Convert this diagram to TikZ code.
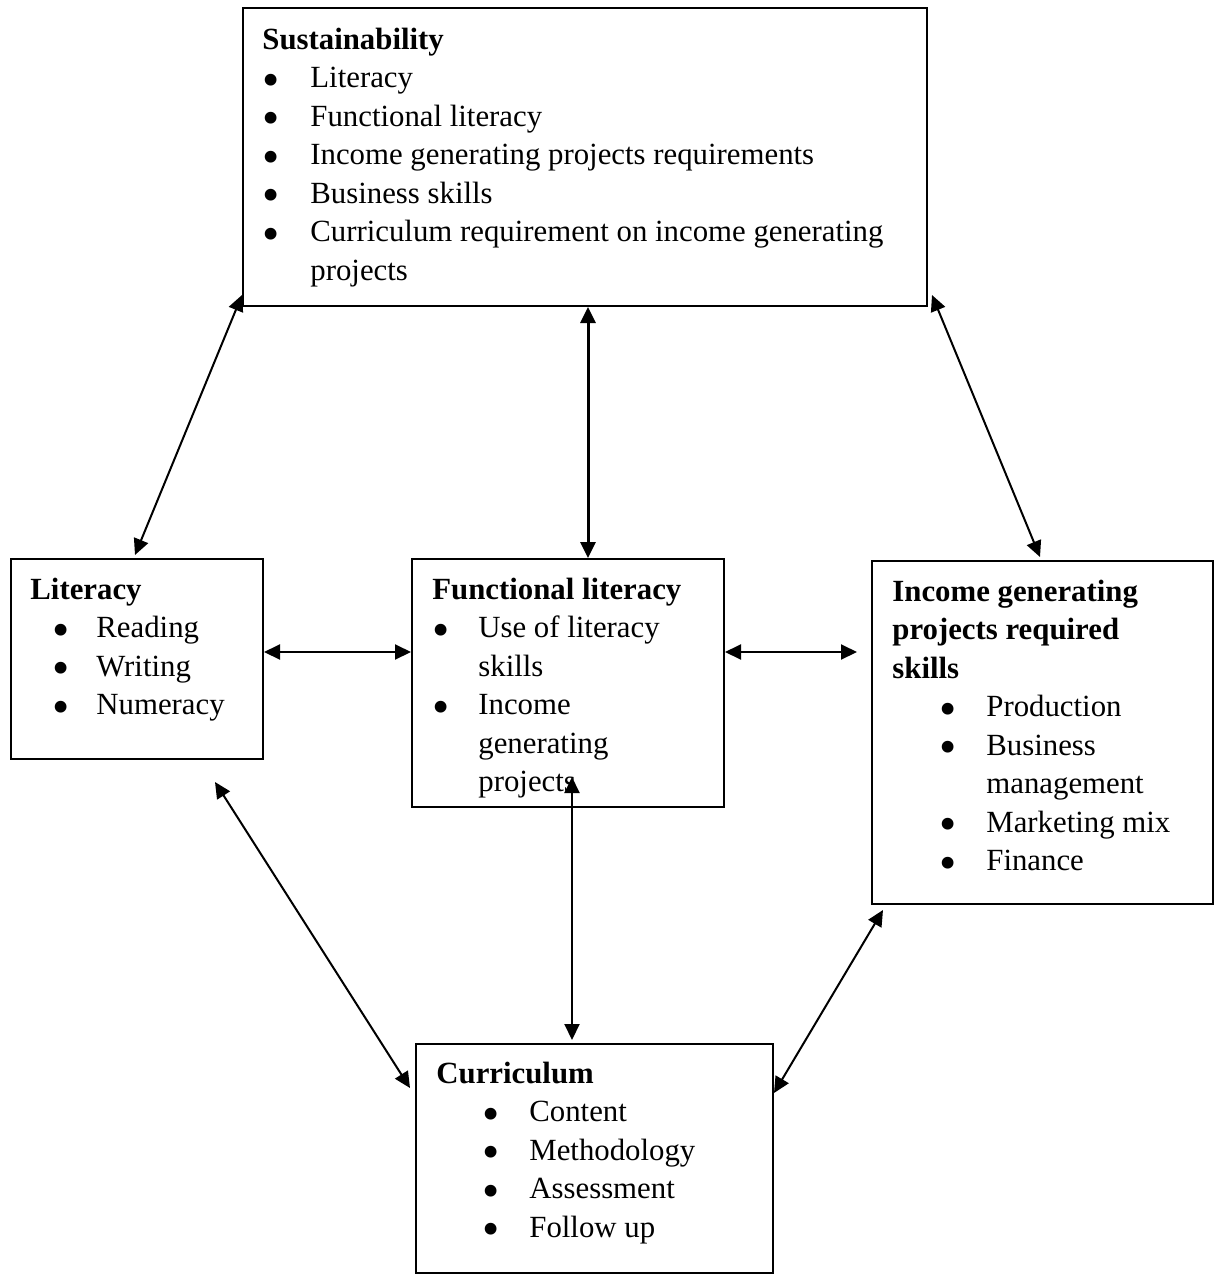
\documentclass[tikz,border=0pt]{standalone}
\usepackage{fontspec}
\setmainfont{Liberation Serif}
\usetikzlibrary{arrows.meta}
\newcommand{\bul}[3]{\hspace*{#1}\makebox[#2][l]{\smash{\raisebox{-0.27em}{\scalebox{1.6}{\textbullet}}}}#3}
\newcommand{\cont}[1]{\hspace*{#1}}
\tikzset{
	box/.style={draw=black, line width=1pt, inner sep=0pt, anchor=north west},
	txt/.style={inner sep=0pt, anchor=north west, align=left, font=\fontsize{15.4}{19.25}\selectfont},
	link/.style={line width=1pt, arrows={Triangle[length=8pt,width=7.5pt]-Triangle[length=8pt,width=7.5pt]}}
}
\begin{document}
\begin{tikzpicture}[x=0.5pt, y=-0.5pt]
	\useasboundingbox (0,0) rectangle (1222,1274);
	% boxes
	\node [box, minimum width=342pt, minimum height=149pt] (sus) at (242,7) {};
	\node [box, minimum width=126pt, minimum height=100pt] (lit) at (10,558) {};
	\node [box, minimum width=156pt, minimum height=124pt] (fun) at (411,558) {};
	\node [box, minimum width=170.5pt, minimum height=171.5pt] (inc) at (871,560) {};
	\node [box, minimum width=178.5pt, minimum height=114.5pt] (cur) at (415,1043) {};
	% texts
	\node [txt] (sus-txt) at (262,22) {\strut\textbf{Sustainability}\\
		\bul{0pt}{24pt}{Literacy}\\
		\bul{0pt}{24pt}{Functional literacy}\\
		\bul{0pt}{24pt}{Income generating projects requirements}\\
		\bul{0pt}{24pt}{Business skills}\\
		\bul{0pt}{24pt}{Curriculum requirement on income generating}\\
		\cont{24pt}projects};
	\node [txt] (lit-txt) at (30,572) {\strut\textbf{Literacy}\\
		\bul{11pt}{22pt}{Reading}\\
		\bul{11pt}{22pt}{Writing}\\
		\bul{11pt}{22pt}{Numeracy}};
	\node [txt] (fun-txt) at (432,572) {\strut\textbf{Functional literacy}\\
		\bul{0pt}{23pt}{Use of literacy}\\
		\cont{23pt}skills\\
		\bul{0pt}{23pt}{Income}\\
		\cont{23pt}generating\\
		\cont{23pt}projects};
	\node [txt] (inc-txt) at (892,574) {\strut\textbf{Income generating}\\
		\textbf{projects required}\\
		\textbf{skills}\\
		\bul{23.5pt}{23.5pt}{Production}\\
		\bul{23.5pt}{23.5pt}{Business}\\
		\cont{47pt}management\\
		\bul{23.5pt}{23.5pt}{Marketing mix}\\
		\bul{23.5pt}{23.5pt}{Finance}};
	\node [txt] (cur-txt) at (436,1056) {\strut\textbf{Curriculum}\\
		\bul{23pt}{23.5pt}{Content}\\
		\bul{23pt}{23.5pt}{Methodology}\\
		\bul{23pt}{23.5pt}{Assessment}\\
		\bul{23pt}{23.5pt}{Follow up}};
	% connectors
	\draw [link] ([yshift=6pt]sus.south west) -- ([xshift=62.5pt,yshift=1.5pt]lit.north west);
	\draw [link, line width=1.5pt] ([xshift=173pt]sus.south west) -- ([xshift=88.5pt]fun.north west);
	\draw [link] ([xshift=2pt,yshift=6pt]sus.south east) -- ([xshift=84.5pt,yshift=1.5pt]inc.north west);
	\draw [link] ([yshift=3.5pt]lit.east) -- ([yshift=15.5pt]fun.west);
	\draw [link] ([yshift=15.5pt]fun.east) -- ([xshift=-7pt,yshift=40.25pt]inc.west);
	\draw [link] ([xshift=102.5pt,yshift=-11pt]lit.south west) -- ([xshift=-2.5pt,yshift=-22.5pt]cur.north west);
	\draw [link] ([xshift=80.5pt,yshift=15.5pt]fun.south west) -- ([xshift=78.5pt,yshift=1.5pt]cur.north west);
	\draw [link] ([xshift=6pt,yshift=-2.5pt]inc.south west) -- ([yshift=-25pt]cur.north east);
\end{tikzpicture}
\end{document}
